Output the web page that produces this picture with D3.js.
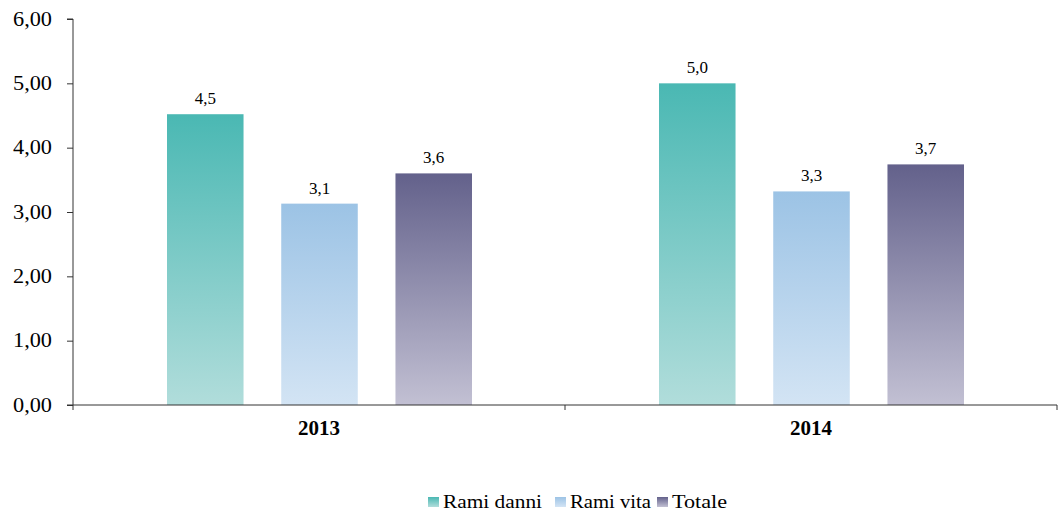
<!DOCTYPE html>
<html><head><meta charset="utf-8">
<script src="https://cdn.jsdelivr.net/npm/d3@7"></script>
<style>body{margin:0;background:#fff}svg{display:block}</style>
</head><body><svg id="c" width="1064" height="520"></svg>
<script>
const categories = ["2013", "2014"];
const seriesNames = ["Rami danni", "Rami vita", "Totale"];
const ramiDanni = [4.52, 5.00];
const ramiVita = [3.13, 3.32];
const totale = [3.60, 3.74];
const yTicks = [0, 1, 2, 3, 4, 5, 6];

const seriesValues = [ramiDanni, ramiVita, totale];
const colors = [
  {top: "#4ab8b3", bottom: "#b1dddb"},
  {top: "#9cc3e5", bottom: "#d3e4f4"},
  {top: "#63618b", bottom: "#c2c0d3"}
];
const FONT = "'Liberation Serif', 'Times New Roman', Times, 'DejaVu Serif', serif";

const svg = d3.select("#c").attr("font-family", FONT);
const m = {left: 73, right: 1057, top: 19, bottom: 405};
const x0 = d3.scaleBand().domain(categories).range([m.left, m.right]).padding(0);
const x1 = d3.scaleBand().domain(seriesNames).range([94, 399]).paddingInner(0.33).paddingOuter(0);
const y = d3.scaleLinear().domain([0, 6]).range([m.bottom, m.top]);

const defs = svg.append("defs");
colors.forEach((c, i) => {
  const g = defs.append("linearGradient").attr("id", "g" + i)
    .attr("x1", 0).attr("y1", 0).attr("x2", 0).attr("y2", 1);
  g.append("stop").attr("offset", "0%").attr("stop-color", c.top);
  g.append("stop").attr("offset", "100%").attr("stop-color", c.bottom);
});

// bars
categories.forEach((cat, ci) => {
  const grp = svg.append("g").attr("transform", `translate(${x0(cat)},0)`);
  seriesNames.forEach((s, si) => {
    const v = seriesValues[si][ci];
    grp.append("rect")
      .attr("x", x1(s)).attr("width", x1.bandwidth())
      .attr("y", y(v)).attr("height", y(0) - y(v))
      .attr("fill", `url(#g${si})`);
    grp.append("text")
      .attr("font-family", FONT)
      .attr("x", x1(s) + x1.bandwidth() / 2).attr("y", y(v) - 10)
      .attr("text-anchor", "middle").attr("font-size", 17).attr("fill", "#000")
      .text(d3.format(".1f")(v).replace(".", ","));
  });
});

// y axis
const yAxis = d3.axisLeft(y).tickValues(yTicks).tickSize(6).tickSizeOuter(6)
  .tickFormat(d => d3.format(".2f")(d).replace(".", ","));
const ya = svg.append("g").attr("transform", `translate(${m.left},0)`).call(yAxis);
ya.attr("font-family", FONT);
ya.selectAll("path,line").attr("stroke", "#333");
ya.selectAll("text").attr("font-size", 20).attr("x", -21).attr("dy", "0.3em").attr("fill", "#000")
  .attr("textLength", 39).attr("lengthAdjust", "spacingAndGlyphs");
ya.select(".domain").attr("d", `M-6,${y(6)}H0V${y(0)}`);

// x axis
const xa = svg.append("g").attr("transform", `translate(0,${m.bottom})`);
xa.append("line").attr("x1", m.left - 6).attr("x2", m.right).attr("stroke", "#333");
const bounds = [m.left, x0("2014"), m.right];
xa.selectAll("line.t").data(bounds).join("line").attr("class", "t")
  .attr("x1", d => d).attr("x2", d => d).attr("y1", 0).attr("y2", 5).attr("stroke", "#333");
xa.selectAll("text").data(categories).join("text")
  .attr("font-family", FONT)
  .attr("x", d => x0(d) + x0.bandwidth() / 2).attr("y", 30)
  .attr("text-anchor", "middle").attr("font-size", 21).attr("font-weight", "bold").attr("fill", "#000")
  .text(d => d);

// legend
const legendX = [428, 555, 657];
const legendW = [99, 81, 55];
const lg = svg.append("g");
seriesNames.forEach((s, i) => {
  lg.append("rect").attr("x", legendX[i]).attr("y", 497).attr("width", 11).attr("height", 10)
    .attr("fill", `url(#g${i})`);
  lg.append("text").attr("font-family", FONT).attr("x", legendX[i] + 15).attr("y", 508).attr("font-size", 19)
    .attr("fill", "#000")
    .attr("textLength", legendW[i]).attr("lengthAdjust", "spacingAndGlyphs").text(s);
});
</script></body></html>
